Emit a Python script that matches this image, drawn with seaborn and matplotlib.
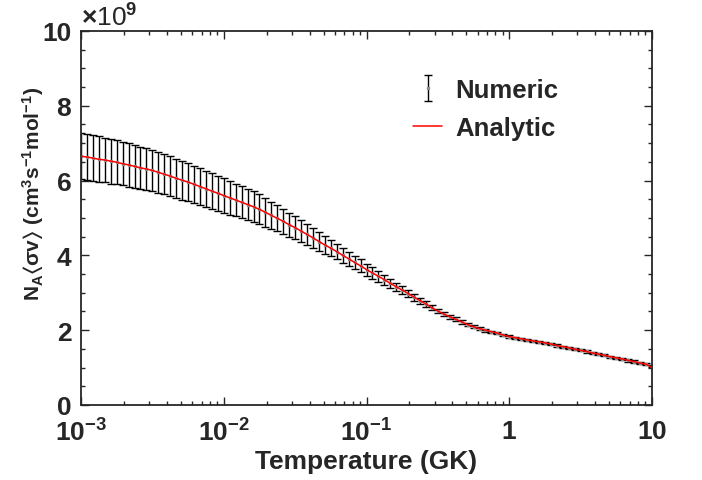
import numpy as np
import pandas as pd
import matplotlib
matplotlib.use('Agg')
import matplotlib.pyplot as plt
import matplotlib.ticker as mticker
import seaborn as sns

# Температурная сетка: 24 точки на декаду, от 1e-3 до 10 GK
temperature = np.logspace(-3, 1, 97)

# Скорость реакции (в единицах 1e9 cm^3 s^-1 mol^-1)
rate = [
    6.65, 6.63, 6.60, 6.57, 6.55, 6.52,
    6.49, 6.45, 6.42, 6.38, 6.34, 6.31,
    6.27, 6.22, 6.17, 6.12, 6.06, 6.01,
    5.96, 5.90, 5.84, 5.78, 5.72, 5.66,
    5.60, 5.54, 5.48, 5.42, 5.36, 5.30,
    5.23, 5.15, 5.07, 4.99, 4.91, 4.82,
    4.74, 4.65, 4.56, 4.47, 4.37, 4.28,
    4.19, 4.10, 4.00, 3.91, 3.81, 3.72,
    3.62, 3.53, 3.44, 3.35, 3.25, 3.16,
    3.07, 2.98, 2.88, 2.79, 2.70, 2.60,
    2.51, 2.43, 2.36, 2.29, 2.22, 2.15,
    2.09, 2.04, 2.00, 1.96, 1.92, 1.87,
    1.83, 1.80, 1.77, 1.74, 1.71, 1.69,
    1.66, 1.63, 1.59, 1.56, 1.53, 1.49,
    1.46, 1.43, 1.39, 1.36, 1.33, 1.29,
    1.26, 1.23, 1.19, 1.16, 1.12, 1.09,
    1.05,
]

# Погрешности численного расчёта
rate_err = [
    0.62, 0.62, 0.61, 0.61, 0.60, 0.60,
    0.59, 0.58, 0.58, 0.57, 0.56, 0.56,
    0.55, 0.54, 0.54, 0.53, 0.52, 0.52,
    0.51, 0.50, 0.49, 0.48, 0.48, 0.47,
    0.46, 0.45, 0.44, 0.43, 0.42, 0.41,
    0.40, 0.38, 0.37, 0.35, 0.34, 0.32,
    0.31, 0.30, 0.28, 0.27, 0.25, 0.24,
    0.22, 0.21, 0.20, 0.19, 0.18, 0.17,
    0.16, 0.15, 0.14, 0.13, 0.12, 0.11,
    0.10, 0.09, 0.09, 0.08, 0.07, 0.07,
    0.06, 0.06, 0.05, 0.05, 0.05, 0.04,
    0.04, 0.04, 0.04, 0.03, 0.03, 0.03,
    0.03, 0.03, 0.03, 0.03, 0.03, 0.03,
    0.03, 0.03, 0.03, 0.03, 0.03, 0.03,
    0.03, 0.03, 0.03, 0.03, 0.03, 0.03,
    0.03, 0.03, 0.03, 0.03, 0.03, 0.03,
    0.03,
]

# Аналитическая кривая (совпадает с численной, в конце чуть ниже)
analytic = rate[:-1] + [1.00]

x_ticks = [1e-3, 1e-2, 1e-1, 1, 10]
x_tick_labels = [r'$10^{-3}$', r'$10^{-2}$', r'$10^{-1}$', r'$1$', r'$10$']
y_ticks = [0, 2, 4, 6, 8, 10]

df = pd.DataFrame({'T': temperature, 'rate': rate, 'err': rate_err, 'analytic': analytic})

sns.set_style('ticks')
plt.rcParams['font.family'] = ['Liberation Sans', 'DejaVu Sans']
plt.rcParams['font.weight'] = 'bold'
plt.rcParams['mathtext.fontset'] = 'custom'
plt.rcParams['mathtext.rm'] = 'Liberation Sans:bold'
plt.rcParams['mathtext.it'] = 'Liberation Sans:bold'
plt.rcParams['mathtext.bf'] = 'Liberation Sans:bold'
plt.rcParams['mathtext.fallback'] = 'stixsans'

fig = plt.figure(figsize=(7.02, 4.81), dpi=100)
ax = fig.add_axes([0.1154, 0.156, 0.8134, 0.7775])

eb = ax.errorbar(df['T'], df['rate'], yerr=df['err'], fmt='s', color='0.55', ms=1.8,
                 ecolor='black', elinewidth=1.0, capsize=2.8, capthick=1.0,
                 label='Numeric', zorder=2)
sns.lineplot(data=df, x='T', y='analytic', color='red', linewidth=1.1,
             label='Analytic', ax=ax, zorder=3)

ax.set_xscale('log')
ax.set_xlim(1e-3, 10)
ax.set_ylim(0, 10)
ax.set_xticks(x_ticks)
ax.set_xticklabels(x_tick_labels)
ax.set_yticks(y_ticks)
ax.yaxis.set_minor_locator(mticker.MultipleLocator(0.5))
ax.xaxis.set_minor_locator(mticker.LogLocator(base=10, subs=np.arange(2, 10), numticks=20))
ax.xaxis.set_minor_formatter(mticker.NullFormatter())

ax.tick_params(which='both', direction='in', top=True, right=True, width=1.0)
ax.tick_params(which='major', length=5.5, labelsize=19)
ax.tick_params(axis='x', which='major', pad=10)
ax.tick_params(axis='y', which='major', pad=7)
ax.tick_params(which='minor', length=3)
for s in ax.spines.values():
    s.set_linewidth(1.3)

ax.set_xlabel('Temperature (GK)', fontsize=19, fontweight='bold', labelpad=2)
ax.set_ylabel(r'N$_{A}\langle\sigma$v$\rangle$ (cm$^{3}$s$^{-1}$mol$^{-1}$)', fontsize=15,
              fontweight='bold')
ax.yaxis.set_label_coords(-0.063, 0.567)
ax.text(0.0, 1.0, r'$\times$10$^{9}$', transform=ax.transAxes, fontsize=19,
        fontweight='normal', ha='left', va='bottom')

handles, labels = ax.get_legend_handles_labels()
order = [labels.index('Numeric'), labels.index('Analytic')]
ax.legend([handles[i] for i in order], [labels[i] for i in order],
          loc='upper left', bbox_to_anchor=(0.581, 0.874), frameon=False,
          prop={'size': 18.5, 'weight': 'bold'}, handlelength=1.15, handletextpad=0.5,
          labelspacing=0.55, borderpad=0, borderaxespad=0)

fig.savefig('out.png', dpi=100)
